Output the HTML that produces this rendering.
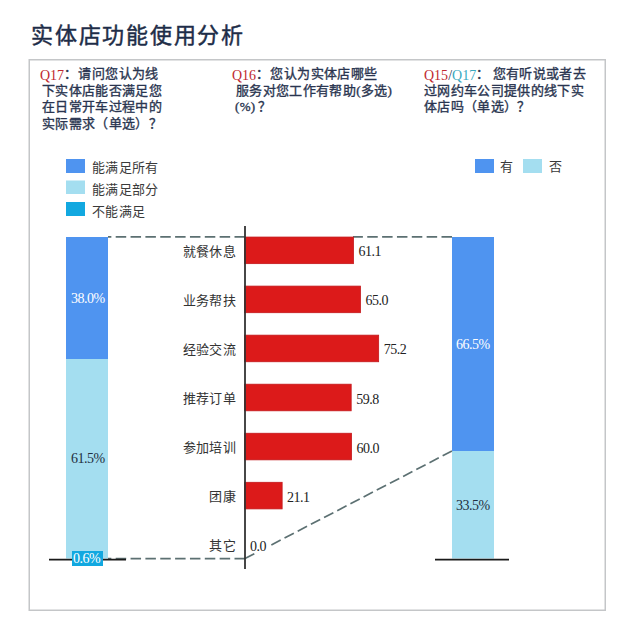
<!DOCTYPE html>
<html lang="zh-CN"><head><meta charset="utf-8">
<style>
html,body{margin:0;padding:0;background:#fff;width:640px;height:624px;overflow:hidden;position:relative;}
body{font-family:"Liberation Serif",serif;}
.a{position:absolute;white-space:nowrap;line-height:1;}
.title{left:31px;top:25px;font-size:22px;letter-spacing:1.75px;color:#1e2d48;-webkit-text-stroke:0.45px #1e2d48;}
.box{position:absolute;left:28.5px;top:59px;width:576px;height:550px;border:1.5px solid #c6c8ca;}
.q{font-size:13px;letter-spacing:0.35px;color:#2a3550;-webkit-text-stroke:0.35px #2a3550;line-height:16.7px;}
.q .r{position:relative;top:1.5px;color:#c0282e;-webkit-text-stroke:0;font-size:14px;letter-spacing:0;}
.q .t{position:relative;top:1.5px;color:#3aa8bf;-webkit-text-stroke:0;font-size:14px;letter-spacing:0;}
.q .c{margin-right:1px;}
.q .i{margin-left:2px;}
.q .s{position:relative;top:1.5px;color:#2a3550;-webkit-text-stroke:0;font-size:14px;letter-spacing:0;}
.lg{font-size:13px;letter-spacing:0.3px;color:#3a3a3a;}
.cat{font-size:13px;letter-spacing:0.3px;color:#333;text-align:right;}
.num{font-size:14px;letter-spacing:-0.5px;color:#222;}

.pct{font-size:14px;letter-spacing:-0.5px;}
</style></head><body>
<div class="a title">实体店功能使用分析</div>


<div class="a q" style="left:40px;top:66px;"><span class="r">Q17</span><span class="c">：</span>请问您认为线<br><span class="i"></span>下实体店能否满足您<br><span class="i"></span>在日常开车过程中的<br><span class="i"></span>实际需求（单选）？</div>
<div class="a q" style="left:232px;top:66px;"><span class="r">Q16</span><span class="c">：</span>您认为实体店哪些<br><span class="i" style="margin-left:4px"></span>服务对您工作有帮助(多选)<br><span class="i" style="margin-left:3px"></span>(%)<span style="margin-left:2px">？</span></div>
<div class="a q" style="left:424px;top:66px;"><span class="r">Q15</span><span class="s">/</span><span class="t">Q17</span><span class="c" style="margin-right:3px">：</span>您有听说或者去<br>过网约车公司提供的线下实<br>体店吗（单选）？</div>

<svg class="a" style="left:0;top:0" width="640" height="624" viewBox="0 0 640 624">
  <rect x="29.25" y="59.75" width="576" height="550.5" fill="none" stroke="#c4c6c8" stroke-width="1.5"/>
  <rect x="66" y="159" width="19" height="14" fill="#4f94f0"/>
  <rect x="66" y="180.5" width="19" height="13.5" fill="#a4def0"/>
  <rect x="66" y="202" width="19" height="14" fill="#12a8e0"/>
  <rect x="475" y="159" width="19" height="14" fill="#4f94f0"/>
  <rect x="523" y="159" width="19" height="14" fill="#a4def0"/>
  <rect x="66" y="237" width="42" height="122" fill="#4f94f0"/>
  <rect x="66" y="359" width="42" height="199.5" fill="#a4def0"/>
  <rect x="452" y="237" width="42" height="214" fill="#4f94f0"/>
  <rect x="452" y="451" width="42" height="107.5" fill="#a4def0"/>
  <g stroke="#5c7072" stroke-width="1.7" stroke-dasharray="10.5 4.35" fill="none">
    <line x1="245" y1="236.8" x2="108" y2="236.8"/>
    <line x1="452" y1="236.8" x2="353" y2="236.8"/>
    <line x1="245" y1="558.6" x2="108" y2="558.6"/>
    <line x1="245" y1="558.6" x2="452" y2="451"/>
  </g>
  <rect x="256.5" y="539" width="13" height="14.5" fill="#fff"/>
  <line x1="49" y1="559.6" x2="126" y2="559.6" stroke="#1a1a1a" stroke-width="1.6"/>
  <line x1="435" y1="559.6" x2="509" y2="559.6" stroke="#1a1a1a" stroke-width="1.6"/>
  <g fill="#dc1a1a" stroke="#c4181c" stroke-width="0.8">
    <rect x="244.5" y="237.05" width="109.00" height="26.6"/><rect x="244.5" y="286.10" width="115.96" height="26.6"/><rect x="244.5" y="335.15" width="134.16" height="26.6"/><rect x="244.5" y="384.20" width="106.68" height="26.6"/><rect x="244.5" y="433.25" width="107.04" height="26.6"/><rect x="244.5" y="482.30" width="37.64" height="26.6"/>
  </g>
  <line x1="245" y1="226" x2="245" y2="569" stroke="#333" stroke-width="1.8"/>
  <rect x="72" y="551" width="31" height="15" fill="#12a8e0"/>
</svg>

<div class="a lg" style="left:92px;top:161px;">能满足所有</div>
<div class="a lg" style="left:92px;top:183px;">能满足部分</div>
<div class="a lg" style="left:92px;top:205px;">不能满足</div>
<div class="a lg" style="left:500px;top:160px;">有</div>
<div class="a lg" style="left:549px;top:160px;">否</div>

<div class="a cat" style="right:404px;top:244.9px;">就餐休息</div>
<div class="a cat" style="right:404px;top:293.9px;">业务帮扶</div>
<div class="a cat" style="right:404px;top:342.9px;">经验交流</div>
<div class="a cat" style="right:404px;top:392.0px;">推荐订单</div>
<div class="a cat" style="right:404px;top:441.1px;">参加培训</div>
<div class="a cat" style="right:404px;top:490.1px;">团康</div>
<div class="a cat" style="right:404px;top:539.1px;">其它</div>
<div class="a num" style="left:358.5px;top:245.4px;">61.1</div>
<div class="a num" style="left:365.5px;top:294.4px;">65.0</div>
<div class="a num" style="left:383.7px;top:343.4px;">75.2</div>
<div class="a num" style="left:356.2px;top:392.5px;">59.8</div>
<div class="a num" style="left:356.5px;top:441.6px;">60.0</div>
<div class="a num" style="left:287.1px;top:490.6px;">21.1</div>
<div class="a num z" style="left:250.0px;top:539.6px;">0.0</div>

<div class="a pct" style="left:71px;top:292px;color:#fff;">38.0%</div>
<div class="a pct" style="left:71px;top:452px;color:#1f2f40;">61.5%</div>
<div class="a pct" style="left:73px;top:552px;color:#fff;">0.6%</div>
<div class="a pct" style="left:456px;top:338px;color:#fff;">66.5%</div>
<div class="a pct" style="left:456px;top:499px;color:#1f2f40;">33.5%</div>
</body></html>
